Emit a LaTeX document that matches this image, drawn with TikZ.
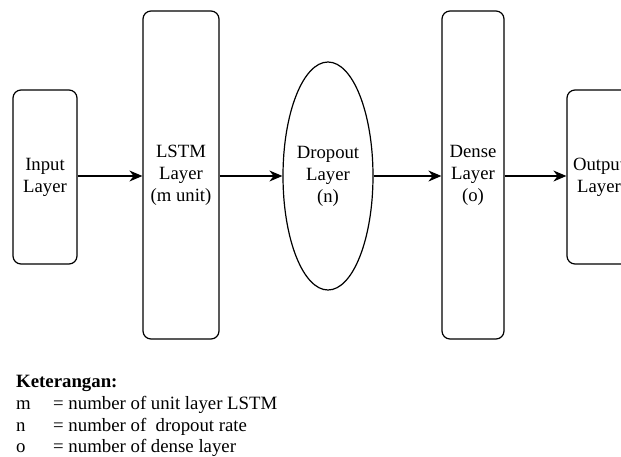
\documentclass[tikz,border=0pt]{standalone}
\usepackage{fontspec}
\setmainfont{Liberation Serif}
\usetikzlibrary{arrows.meta,shapes.geometric}
\begin{document}
\begin{tikzpicture}[x=1pt,y=-1pt,
  layerbox/.style={draw, line width=1.2pt, rounded corners=8pt, inner sep=0pt, align=center, font=\fontsize{18.7}{22}\selectfont},
  layerell/.style={draw, line width=1.2pt, ellipse, inner sep=0pt, align=center, font=\fontsize{18.7}{22}\selectfont},
  conn/.style={line width=1.3pt, -{Stealth[length=13pt,width=11pt]}},
  legend/.style={anchor=base west, inner sep=0pt, font=\fontsize{18.8}{22}\selectfont}]
\clip (0,0) rectangle (621,456);
\useasboundingbox (0,0) rectangle (621,456);
\node[layerbox, minimum width=64pt, minimum height=174pt] (in) at (45,177) {Input\\Layer};
\node[layerbox, minimum width=76pt, minimum height=328pt] (lstm) at (181,175) {LSTM\\Layer\\(m unit)};
\node[layerell, minimum width=90pt, minimum height=228pt] (drop) at (328,176) {Dropout\\Layer\\(n)};
\node[layerbox, minimum width=62pt, minimum height=328pt] (dense) at (473,175) {Dense\\Layer\\(o)};
\node[layerbox, minimum width=64pt, minimum height=174pt] (out) at (599,177) {Output\\Layer};
\draw[conn] (in.east |- 0,176) -- (lstm.west |- 0,176);
\draw[conn] (lstm.east |- 0,176) -- (drop.west);
\draw[conn] (drop.east) -- (dense.west |- 0,176);
\draw[conn] (dense.east |- 0,176) -- (out.west |- 0,176);
\node[legend, font=\fontsize{18.8}{22}\selectfont\bfseries] (ket) at (16,387) {Keterangan:};
\node[legend] (lm) at (16,409) {m};
\node[legend] (em) at (53,409) {= number of unit layer LSTM};
\node[legend] (ln) at (16,431) {n};
\node[legend] (en) at (53,431) {= number of\ \ dropout rate};
\node[legend] (lo) at (16,452) {o};
\node[legend] (eo) at (53,452) {= number of dense layer};
\end{tikzpicture}
\end{document}
